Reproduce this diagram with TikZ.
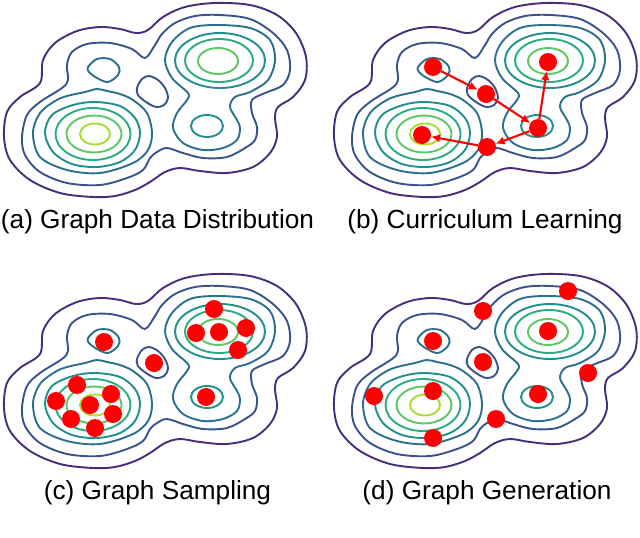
\documentclass[tikz,border=0pt]{standalone}
\usepackage{fontspec}
\setmainfont{Liberation Sans}
\usetikzlibrary{arrows.meta}
\definecolor{colA}{HTML}{472D7B}
\definecolor{colB}{HTML}{3B528B}
\definecolor{colC}{HTML}{2C708E}
\definecolor{colD}{HTML}{21908C}
\definecolor{colE}{HTML}{27AD81}
\definecolor{colF}{HTML}{5CC863}
\definecolor{colG}{HTML}{AADC32}
\tikzset{
  lvA/.style={draw=colA, line width=1.9pt},
  lvB/.style={draw=colB, line width=1.9pt},
  lvC/.style={draw=colC, line width=1.9pt},
  lvD/.style={draw=colD, line width=1.9pt},
  lvE/.style={draw=colE, line width=1.9pt},
  lvF/.style={draw=colF, line width=1.9pt},
  lvG/.style={draw=colG, line width=1.9pt},
  sm/.style={smooth cycle, tension=0.55},
  dotnode/.style={circle, fill=red, minimum size=18pt, inner sep=0pt},
  redarrow/.style={draw=red, line width=2.1pt, -{Latex[length=9pt,width=8.5pt]}},
  caption/.style={anchor=base, font=\fontsize{26.2}{30}\selectfont, inner sep=0pt}
}
\newcommand\drawcontourset{%
  \draw[lvA] plot[sm] coordinates {(4,137) (7,112) (20,97) (40,83) (43,60) (55,43) (77,31) (100,27) (120,29) (136,33) (148,30) (163,17) (185,7) (215,3) (250,5) (277,15) (296,33) (306,57) (305,80) (293,97) (278,107) (275,118) (277,137) (270,153) (253,167) (227,173) (200,171) (180,168) (165,172) (150,182) (135,190) (115,196) (93,197) (60,193) (30,180) (10,160)};
  \draw[lvB] plot[sm] coordinates {(22,137) (27,115) (40,102) (62,88) (68,80) (67,65) (72,52) (87,44) (110,43) (132,49) (145,58) (155,45) (162,34) (175,23) (195,16) (220,15) (250,19) (273,33) (287,50) (290,70) (283,85) (265,93) (252,100) (252,113) (257,127) (255,140) (245,148) (227,157) (203,158) (183,153) (167,148) (157,152) (150,158) (143,170) (127,178) (100,185) (67,183) (40,172) (25,155)};
  \draw[lvB] plot[sm] coordinates {(137,88) (142,79) (149,76) (158,80) (165,88) (168,98) (164,105) (156,107) (146,102) (138,95)};
  \draw[lvC] plot[sm] coordinates {(88,67) (97,59) (110,59) (119,67) (118,75) (108,82) (97,78) (89,72)};
  \draw[lvC] plot[sm] coordinates {(33,133) (40,113) (55,101) (67,96) (85,92) (97,89) (107,91) (120,94) (133,100) (147,113) (152,133) (148,150) (133,163) (100,173) (67,170) (40,157)};
  \draw[lvC] plot[sm] coordinates {(217,25) (250,28) (270,40) (275,60) (268,80) (250,92) (235,97) (230,107) (237,120) (240,128) (237,140) (223,148) (203,150) (183,143) (173,128) (177,113) (187,100) (188,93) (172,78) (165,60) (172,42) (190,28)};
  \draw[lvD] plot[sm] coordinates {(45,133) (52,115) (73,105) (95,102) (120,106) (135,118) (140,133) (135,150) (120,162) (97,167) (72,164) (53,152)};
  \draw[lvD] (220,60.5) ellipse [x radius=45, y radius=27.5];
  \draw[lvD] (207,126) ellipse [x radius=16, y radius=11];
  \draw[lvE] (93,134) ellipse [x radius=37.5, y radius=26];
  \draw[lvE] (219,60.5) ellipse [x radius=34, y radius=21.5];
  \draw[lvF] (94,134) ellipse [x radius=27.5, y radius=18.5];
  \draw[lvF] (218,61) ellipse [x radius=20, y radius=13];
  \draw[lvG] (95,134) ellipse [x radius=15, y radius=10.5];
}
\begin{document}
\begin{tikzpicture}[x=1pt, y=-1pt]
\fill[white] (0,0) rectangle (640,538);
\useasboundingbox (0,0) rectangle (640,538);
% panel (a)
\begin{scope}
  \drawcontourset
\end{scope}
% panel (b)
\begin{scope}[shift={(330,0)}]
  \drawcontourset
\end{scope}
% panel (c)
\begin{scope}[shift={(0,271)}]
  \drawcontourset
\end{scope}
% panel (d)
\begin{scope}[shift={(330,271)}]
  \drawcontourset
\end{scope}
% (b) curriculum dots and arrows
\node[dotnode] (b1) at (433,67) {};
\node[dotnode] (b2) at (486,94) {};
\node[dotnode] (b3) at (538,128) {};
\node[dotnode] (b4) at (548,62) {};
\node[dotnode] (b5) at (487,147) {};
\node[dotnode] (b6) at (422,135) {};
\draw[redarrow] (b1) -- (b2);
\draw[redarrow] (b2) -- (b3);
\draw[redarrow] (b3) -- (b4);
\draw[redarrow] (b3) -- (b5);
\draw[redarrow] (b5) -- (b6);
% (c) sampling dots
\node[dotnode] (c1) at (104,342) {};
\node[dotnode] (c2) at (154,363) {};
\node[dotnode] (c3) at (206,397) {};
\node[dotnode] (c4) at (214,309) {};
\node[dotnode] (c5) at (196,333) {};
\node[dotnode] (c6) at (219,332) {};
\node[dotnode] (c7) at (246,328) {};
\node[dotnode] (c8) at (238,350) {};
\node[dotnode] (c9) at (77,385) {};
\node[dotnode] (c10) at (56,401) {};
\node[dotnode] (c11) at (111,394) {};
\node[dotnode] (c12) at (90,405) {};
\node[dotnode] (c13) at (113,414) {};
\node[dotnode] (c14) at (71,419) {};
\node[dotnode] (c15) at (95,428) {};
% (d) generation dots
\node[dotnode] (d1) at (568,291) {};
\node[dotnode] (d2) at (483,311) {};
\node[dotnode] (d3) at (548,331) {};
\node[dotnode] (d4) at (433,341) {};
\node[dotnode] (d5) at (483,362) {};
\node[dotnode] (d6) at (588,373) {};
\node[dotnode] (d7) at (538,394) {};
\node[dotnode] (d8) at (433,391) {};
\node[dotnode] (d9) at (374,396) {};
\node[dotnode] (d10) at (496,419) {};
\node[dotnode] (d11) at (433,438) {};
% captions
\node[caption] (capa) at (157.5,228) {(a) Graph Data Distribution};
\node[caption] (capb) at (485,228) {(b) Curriculum Learning};
\node[caption] (capc) at (157.5,499) {(c) Graph Sampling};
\node[caption] (capd) at (487,499) {(d) Graph Generation};
\end{tikzpicture}
\end{document}
